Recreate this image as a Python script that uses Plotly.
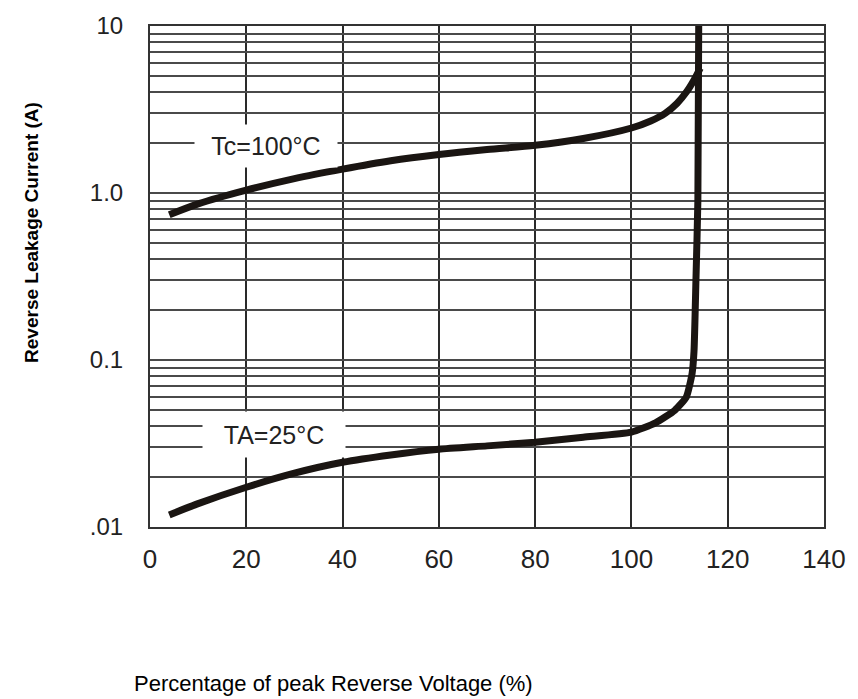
import math
import plotly.graph_objects as go

# Tc = 100 °C curve
tc100_x = [4, 10, 20, 30, 40, 50, 60, 70, 80, 90, 100, 104, 107, 109.5, 111.5, 113, 114.3]
tc100_y = [0.74, 0.86, 1.04, 1.22, 1.39, 1.56, 1.70, 1.82, 1.93, 2.12, 2.45, 2.7, 3.0, 3.45, 4.05, 4.75, 5.6]

# TA = 25 °C curve
ta25_x = [4, 10, 20, 30, 40, 50, 60, 70, 80, 90, 100, 105, 109, 111.4, 112.6, 113.0, 113.4, 113.8, 114.0]
ta25_y = [0.0118, 0.0138, 0.0173, 0.021, 0.0244, 0.027, 0.0292, 0.0306, 0.0322, 0.0345, 0.037, 0.042, 0.05, 0.06, 0.083, 0.113, 0.3, 0.9, 14]

x_ticks = [0, 20, 40, 60, 80, 100, 120, 140]
y_major = [0.01, 0.1, 1, 10]
y_major_text = [".01", "0.1", "1.0", "10"]

# log grid values (1..9 per decade) built from the major ticks
y_tickvals = []
y_ticktext = []
for i, base in enumerate(y_major):
    if i == len(y_major) - 1:
        y_tickvals.append(base)
        y_ticktext.append(y_major_text[i])
        break
    for m in range(1, 10):
        y_tickvals.append(base * m)
        y_ticktext.append(y_major_text[i] if m == 1 else "")

labels = [("Tc=100°C", 24.1, 1.92, 40), ("TA=25°C", 25.7, 0.036, 43)]

line_color = "#1a1512"

W, H = 858, 699
ml, mr, mt, mb = 150, 33, 23, 172
pw, ph = W - ml - mr, H - mt - mb

fig = go.Figure()
fig.add_trace(go.Scatter(x=tc100_x, y=tc100_y, mode="lines",
                         line=dict(color=line_color, width=7, shape="spline", smoothing=0.8),
                         showlegend=False, hoverinfo="skip"))
fig.add_trace(go.Scatter(x=ta25_x, y=ta25_y, mode="lines",
                         line=dict(color=line_color, width=7, shape="spline", smoothing=0.5),
                         showlegend=False, hoverinfo="skip"))

for text, lx, ly, bh in labels:
    fig.add_annotation(x=lx, y=math.log10(ly), xref="x", yref="y", xanchor="center", yanchor="middle",
                       text=text, showarrow=False, bgcolor="white", width=140, height=bh,
                       font=dict(family="Liberation Sans, Arial", size=25, color="#222"))

fig.add_annotation(x=(32 - ml) / pw, y=1 - (231 - mt) / ph, xref="paper", yref="paper",
                   text="<b>Reverse Leakage Current (A)</b>",
                   showarrow=False, textangle=-90, xanchor="center", yanchor="middle",
                   font=dict(family="Liberation Sans, Arial", size=19, color="black"))
fig.add_annotation(x=(334 - ml) / pw, y=1 - (684 - mt) / ph, xref="paper", yref="paper",
                   text="Percentage of peak Reverse Voltage (%)", showarrow=False,
                   xanchor="center", yanchor="middle",
                   font=dict(family="Liberation Sans, Arial", size=22, color="black"))

fig.update_layout(
    width=W, height=H,
    margin=dict(l=ml, r=mr, t=mt, b=mb),
    paper_bgcolor="white", plot_bgcolor="white",
    font=dict(family="Liberation Sans, Arial", color="#222"),
)
fig.update_xaxes(range=[0, 140], tickvals=x_ticks, showgrid=True, gridcolor="#2a2a2a", gridwidth=1.6,
                 zeroline=False, showline=True, linecolor="#333", linewidth=2, mirror=True,
                 ticks="", tickfont=dict(size=26, color="#222"), ticklabelstandoff=8)
fig.update_yaxes(type="log", range=[-2, 1], tickvals=y_tickvals, ticktext=y_ticktext,
                 showgrid=True, gridcolor="#4a4a4a", gridwidth=1.8,
                 zeroline=False, showline=True, linecolor="#333", linewidth=2, mirror=True,
                 ticks="", tickfont=dict(size=24, color="#222"), ticklabelstandoff=20)

fig.write_html("out.html", config={"displayModeBar": False},
               post_script="document.body.style.margin='0';document.body.style.overflow='hidden';")
